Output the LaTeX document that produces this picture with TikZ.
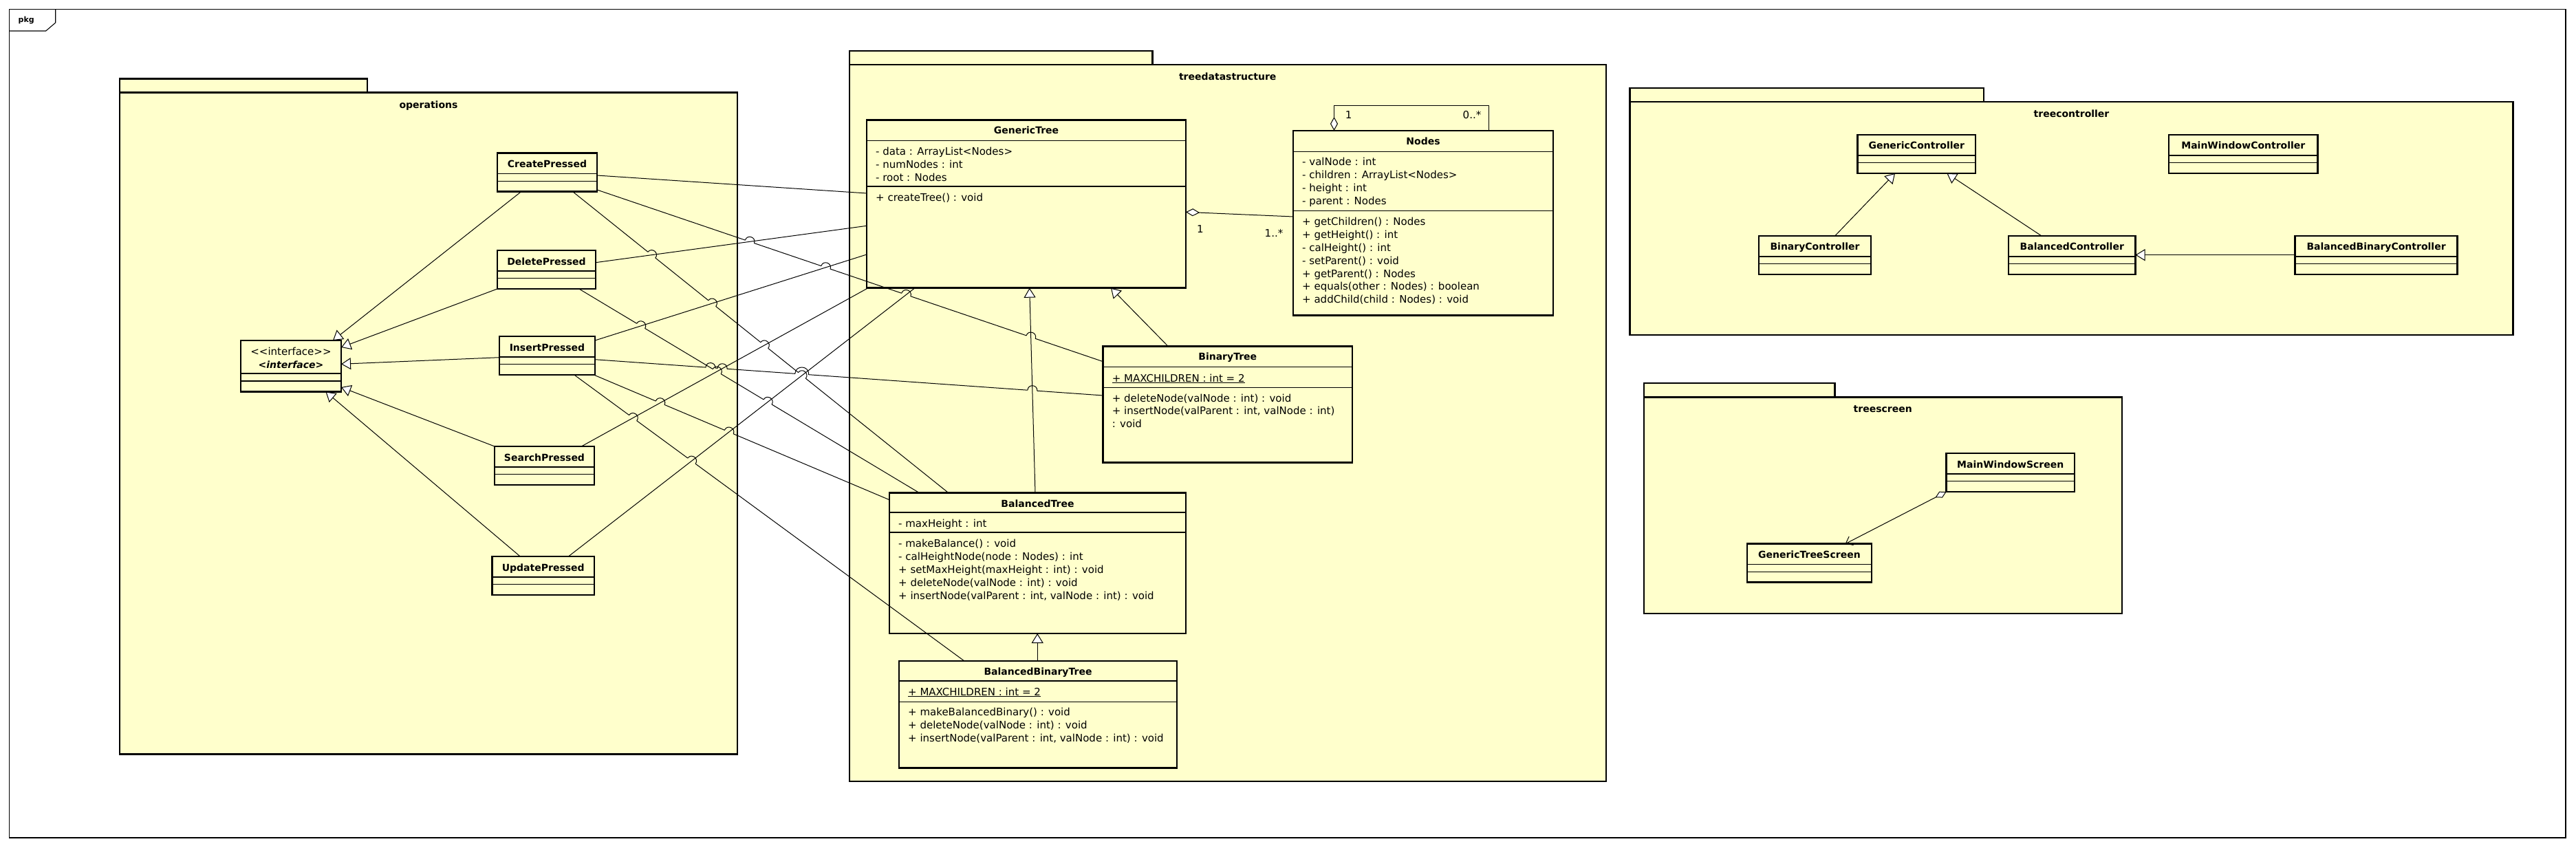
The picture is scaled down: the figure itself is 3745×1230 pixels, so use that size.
\documentclass[tikz,border=0pt]{standalone}
\usepackage{fontspec}
\setmainfont{DejaVu Sans}[Ligatures=TeXOff]
\usetikzlibrary{arrows.meta,calc,intersections}
\definecolor{umlyellow}{RGB}{255,255,204}

\tikzset{
  pkgbox/.style={draw=black, line width=2.4pt, fill=umlyellow},
  pkgbody/.style={draw=black, line width=2.4pt, fill=umlyellow, rectangle, inner sep=0pt, outer sep=0pt},
  classbox/.style={draw=black, line width=2.6pt, fill=umlyellow, rectangle, inner sep=0pt, outer sep=0pt},
  sepline/.style={line width=1.1pt},
  cname/.style={font=\fontsize{14}{16}\selectfont\bfseries, inner sep=0pt},
  ctext/.style={font=\fontsize{15}{18.9}\selectfont, inner sep=0pt, align=left, anchor=north west},
  mult/.style={font=\fontsize{15}{18}\selectfont, inner sep=0pt},
  conn/.style={line width=1pt, line join=round},
  gen/.style={conn, -{Triangle[length=14pt,width=17pt,fill=white,line width=1pt]}},
  agg/.style={conn, {Diamond[length=20pt,width=11pt,fill=white,line width=1pt]}-},
}

\newcommand\umlbox[5]{\node[classbox, anchor=north west, minimum width={(#4)-(#2)}, minimum height={(#5)-(#3)}] (#1) at (#2,#3) {};}
\newcommand\simpleclass[5]{%
  \umlbox{#1}{#2}{#3}{#4}{#3+56}
  \node[cname, anchor=base] (#1-n) at ({(#2+#4)/2},{#3+21}) {#5};
  \draw[sepline] (#2,{#3+30}) -- (#4,{#3+30});
  \draw[sepline] (#2,{#3+40.5}) -- (#4,{#3+40.5});
}
\newcommand\bigclass[8]{% name x1 y1 x2 y2 title sep1 sep2
  \umlbox{#1}{#2}{#3}{#4}{#5}
  \node[cname, anchor=base] (#1-n) at ({(#2+#4)/2},{#3+20.5}) {#6};
  \draw[sepline] (#2,#7) -- (#4,#7);
  \draw[sepline] (#2,#8) -- (#4,#8);
}
\newcommand\comptext[4]{\node[ctext] (#1) at ({#2+13},{#3-7.7}) {#4};}
\newcommand\umlpkg[8]{% name x1 ytab x2tab ybody x2 ybottom label
  \draw[pkgbox] (#2,#3) rectangle (#4,#5);
  \node[pkgbody, anchor=north west, minimum width={(#6)-(#2)}, minimum height={(#7)-(#5)}] (#1) at (#2,#5) {};
  \node[cname, anchor=base] (#1-n) at ({(#2+#6)/2},{#5+22.5}) {#8};
}
% hop: #1 id, #2 crossing, #3 start, #4 end, #5 radius, #6 control distance
\newcommand\mkhop[6]{%
  \coordinate (#1s) at ($(#2)!#5pt!(#3)$);
  \coordinate (#1e) at ($(#2)!#5pt!(#4)$);
  \coordinate (#1p) at ($(#1s)!#6pt!90:(#2)$);
  \coordinate (#1q) at ($(#1e)!#6pt!-90:(#2)$);
}
\newcommand\hp[1]{-- (#1s) .. controls (#1p) and (#1q) .. (#1e)}

\begin{document}
\begin{tikzpicture}[x=1pt,y=-1pt]
\useasboundingbox (0,0) rectangle (3745,1230);
\fill[white] (0,0) rectangle (3745,1230);

% outer frame
\draw[line width=1.1pt] (13.3,13.3) rectangle (3730,1218);
\draw[line width=1.1pt] (13.3,45) -- (66.7,45) -- (80.7,33) -- (80.7,13.3);
\node[font=\fontsize{11}{13}\selectfont\bfseries, inner sep=0pt, anchor=base west] (pkglabel) at (26.5,33) {pkg};

% packages
\umlpkg{opspkg}{174}{114.4}{534}{134.7}{1072}{1096.5}{operations}
\umlpkg{tdspkg}{1234.7}{74}{1675.4}{94}{2334.8}{1136}{treedatastructure}
\umlpkg{tcpkg}{2369.6}{128}{2883.8}{148.3}{3653.4}{486.7}{treecontroller}
\umlpkg{tspkg}{2389.8}{556.7}{2667.3}{577.3}{3084.7}{891.7}{treescreen}

% operations classes
\simpleclass{ct}{723}{222.7}{868}{CreatePressed}
\simpleclass{dp}{723}{364}{866}{DeletePressed}
\simpleclass{ip}{726}{489}{865}{InsertPressed}
\simpleclass{sp}{719}{649}{864}{SearchPressed}
\simpleclass{up}{715.5}{809}{864}{UpdatePressed}
\umlbox{iface}{350}{495}{496}{569.5}
\node[mult, anchor=base] (iface-s) at (423,516) {<<interface>>};
\node[cname, anchor=base] (iface-n) at (423,535) {\itshape <interface>};
\draw[sepline] (350,543) -- (496,543);
\draw[sepline] (350,554) -- (496,554);

% treedatastructure classes
\bigclass{gt}{1260}{174.3}{1724}{418.7}{GenericTree}{204.3}{271}
\comptext{gt-a}{1260}{220}{\strut- data : ArrayList<Nodes>\\\strut- numNodes : int\\\strut- root : Nodes}
\comptext{gt-m}{1260}{286.7}{\strut+ createTree() : void}

\bigclass{nd}{1880}{190}{2258}{458.3}{Nodes}{220.3}{306.7}
\comptext{nd-a}{1880}{235}{\strut- valNode : int\\\strut- children : ArrayList<Nodes>\\\strut- height : int\\\strut- parent : Nodes}
\comptext{nd-m}{1880}{321.7}{\strut+ getChildren() : Nodes\\\strut+ getHeight() : int\\\strut- calHeight() : int\\\strut- setParent() : void\\\strut+ getParent() : Nodes\\\strut+ equals(other : Nodes) : boolean\\\strut+ addChild(child : Nodes) : void}

\bigclass{bt}{1603.6}{503.3}{1965.9}{672.7}{BinaryTree}{533.3}{563.3}
\comptext{bt-a}{1603.6}{549.3}{\strut\underline{+ MAXCHILDREN : int = 2}}
\comptext{bt-m}{1603.6}{578.3}{\strut+ deleteNode(valNode : int) : void\\\strut+ insertNode(valParent : int, valNode : int)\\\strut: void}

\bigclass{bal}{1293}{716.7}{1724}{921}{BalancedTree}{745}{774}
\comptext{bal-a}{1293}{760.7}{\strut- maxHeight : int}
\comptext{bal-m}{1293}{790}{\strut- makeBalance() : void\\\strut- calHeightNode(node : Nodes) : int\\\strut+ setMaxHeight(maxHeight : int) : void\\\strut+ deleteNode(valNode : int) : void\\\strut+ insertNode(valParent : int, valNode : int) : void}

\bigclass{bbt}{1307}{961}{1711}{1116.7}{BalancedBinaryTree}{990}{1020.7}
\comptext{bbt-a}{1307}{1005.3}{\strut\underline{+ MAXCHILDREN : int = 2}}
\comptext{bbt-m}{1307}{1035}{\strut+ makeBalancedBinary() : void\\\strut+ deleteNode(valNode : int) : void\\\strut+ insertNode(valParent : int, valNode : int) : void}

% treecontroller classes
\simpleclass{gc}{2700.5}{196}{2872}{GenericController}
\simpleclass{mwc}{3153}{196}{3369.6}{MainWindowController}
\simpleclass{bc}{2557}{343}{2720}{BinaryController}
\simpleclass{balc}{2920}{343}{3104.5}{BalancedController}
\simpleclass{bbc}{3336.7}{343}{3572.4}{BalancedBinaryController}

% treescreen classes
\simpleclass{mws}{2829.6}{659}{3015.8}{MainWindowScreen}
\simpleclass{gts}{2539.8}{790.7}{2721}{GenericTreeScreen}

% ---- connectors ----
% realizations to interface
\draw[gen] ($(ct.south west)+(34.6,0)$) -- ($(iface.north east)+(-12,0)$);
\draw[gen] (dp.south west) -- ($(iface.north east)+(0,10)$);
\draw[gen] ($(ip.north west)+(0,30.7)$) -- ($(iface.north east)+(0,34.3)$);
\draw[gen] (sp.north west) -- ($(iface.north east)+(0,68)$);
\draw[gen] ($(up.north west)+(40.7,0)$) -- ($(iface.south east)+(-22.5,0)$);

% end points of the crossing lines
\coordinate (a1) at ($(ct.north east)+(0,32.3)$);   \coordinate (b1) at ($(gt.north west)+(0,106.7)$);
\coordinate (a2) at ($(ct.north east)+(0,53.3)$);   \coordinate (b2) at ($(bt.north west)+(0,22.4)$);
\coordinate (a3) at ($(ct.south west)+(109.7,0)$);  \coordinate (b3) at ($(bal.north west)+(86,0)$);
\coordinate (a4) at ($(dp.south west)+(118.8,0)$);  \coordinate (b4) at ($(bal.north west)+(43.7,0)$);
\coordinate (a5) at ($(dp.north east)+(0,17.7)$);   \coordinate (b5) at ($(gt.north west)+(0,154)$);
\coordinate (a6) at ($(ip.north east)+(0,6)$);      \coordinate (b6) at ($(gt.north west)+(0,195.7)$);
\coordinate (a7) at ($(ip.north east)+(0,33.7)$);   \coordinate (b7) at ($(bt.north west)+(0,71.7)$);
\coordinate (a8) at ($(ip.south east)+(-1.7,0)$);   \coordinate (b8) at ($(bal.north west)+(0,10)$);
\coordinate (a9) at ($(sp.north west)+(126.3,0)$);  \coordinate (b9) at ($(gt.south west)+(2,0)$);
\coordinate (a10) at ($(up.north west)+(110.9,0)$); \coordinate (b10) at ($(gt.south west)+(70,0)$);
\coordinate (a11) at ($(ip.south west)+(108.8,0)$); \coordinate (b11) at ($(bbt.north west)+(94.9,0)$);

% lines that are crossed
\draw[conn] (a1) -- (b1);
\draw[conn, name path=L5] (a5) -- (b5);
\draw[conn, name path=L6] (a6) -- (b6);
\draw[conn, name path=L9] (a9) -- (b9);
\draw[conn, name path=L10] (a10) -- (b10);
\draw[gen, name path=LV] ($(bal.north west)+(212,0)$) -- ($(gt.south west)+(236.7,0)$);
\path[name path=L2] (a2) -- (b2);
\path[name path=L3] (a3) -- (b3);
\path[name path=L4] (a4) -- (b4);
\path[name path=L7] (a7) -- (b7);
\path[name path=L8] (a8) -- (b8);
\path[name path=L11] (a11) -- (b11);

% crossings
\path[name intersections={of=L2 and L5, by=x25}];
\path[name intersections={of=L2 and L6, by=x26}];
\path[name intersections={of=L2 and L10, by=x210}];
\path[name intersections={of=L2 and LV, by=x2v}];
\path[name intersections={of=L3 and L5, by=x35}];
\path[name intersections={of=L3 and L6, by=x36}];
\path[name intersections={of=L3 and L9, by=x39}];
\path[name intersections={of=L3 and L10, by=x310}];
\path[name intersections={of=L4 and L6, by=x46}];
\path[name intersections={of=L4 and L9, by=x49}];
\path[name intersections={of=L4 and L10, by=x410}];
\path[name intersections={of=L7 and L4, by=x74}];
\path[name intersections={of=L7 and L9, by=x79}];
\path[name intersections={of=L7 and L3, by=x73}];
\path[name intersections={of=L7 and L10, by=x710}];
\path[name intersections={of=L7 and LV, by=x7v}];
\path[name intersections={of=L8 and L9, by=x89}];
\path[name intersections={of=L8 and L10, by=x810}];
\path[name intersections={of=L11 and L9, by=x119}];
\path[name intersections={of=L11 and L10, by=x1110}];
\coordinate (x7m) at ($(x73)!0.5!(x710)$);

\mkhop{h25}{x25}{a2}{b2}{7}{9.33}
\mkhop{h26}{x26}{a2}{b2}{7}{9.33}
\mkhop{h210}{x210}{a2}{b2}{7}{9.33}
\mkhop{h2v}{x2v}{a2}{b2}{7}{9.33}
\mkhop{h35}{x35}{a3}{b3}{7}{9.33}
\mkhop{h36}{x36}{a3}{b3}{7}{9.33}
\mkhop{h39}{x39}{a3}{b3}{7}{9.33}
\mkhop{h310}{x310}{a3}{b3}{7}{9.33}
\mkhop{h46}{x46}{a4}{b4}{7}{9.33}
\mkhop{h49}{x49}{a4}{b4}{7}{9.33}
\mkhop{h410}{x410}{a4}{b4}{7}{9.33}
\mkhop{h74}{x74}{a7}{b7}{7}{9.33}
\mkhop{h79}{x79}{a7}{b7}{7}{9.33}
\mkhop{h7m}{x7m}{a7}{b7}{10}{13.33}
\mkhop{h7v}{x7v}{a7}{b7}{7}{9.33}
\mkhop{h89}{x89}{a8}{b8}{7}{9.33}
\mkhop{h810}{x810}{a8}{b8}{7}{9.33}
\mkhop{h119}{x119}{a11}{b11}{7}{9.33}
\mkhop{h1110}{x1110}{a11}{b11}{7}{9.33}

% lines that hop
\draw[conn] (a2) \hp{h25} \hp{h26} \hp{h210} \hp{h2v} -- (b2);
\draw[conn] (a3) \hp{h35} \hp{h36} \hp{h39} \hp{h310} -- (b3);
\draw[conn] (a4) \hp{h46} \hp{h49} \hp{h410} -- (b4);
\draw[conn] (a7) \hp{h74} \hp{h79} \hp{h7m} \hp{h7v} -- (b7);
\draw[conn] (a8) \hp{h89} \hp{h810} -- (b8);
\draw[conn] (a11) \hp{h119} \hp{h1110} -- (b11);

% generalizations in treedatastructure
\draw[gen] ($(bt.north west)+(94.4,0)$) -- ($(gt.south west)+(355,0)$);
\draw[gen] ($(bbt.north west)+(201.2,0)$) -- ($(bal.south west)+(215.2,0)$);

% aggregations
\draw[agg] ($(gt.north east)+(0,134)$) -- ($(nd.north west)+(0,125)$);
\node[mult] (m1) at (1745,333.3) {1};
\node[mult] (m2) at (1852,339.3) {1..*};
\draw[agg] ($(nd.north west)+(59.5,0)$) -- ++(0,-36.7) -| ($(nd.north west)+(284.6,0)$);
\node[mult] (m3) at (1960.7,166.7) {1};
\node[mult] (m4) at (2140,166.7) {0..*};

% treecontroller generalizations
\draw[gen] ($(bc.north west)+(110.6,0)$) -- ($(gc.south west)+(54.5,0)$);
\draw[gen] ($(balc.north west)+(48,0)$) -- ($(gc.south west)+(129.9,0)$);
\draw[gen] ($(bbc.north west)+(0,27.7)$) -- ($(balc.north east)+(0,27.7)$);

% treescreen association
\draw[conn, {Diamond[length=18pt,width=10pt,fill=white,line width=1pt]}-{Straight Barb[length=9pt,width=14pt]}] (mws.south west) -- ($(gts.north west)+(142.8,0)$);

\end{tikzpicture}
\end{document}
